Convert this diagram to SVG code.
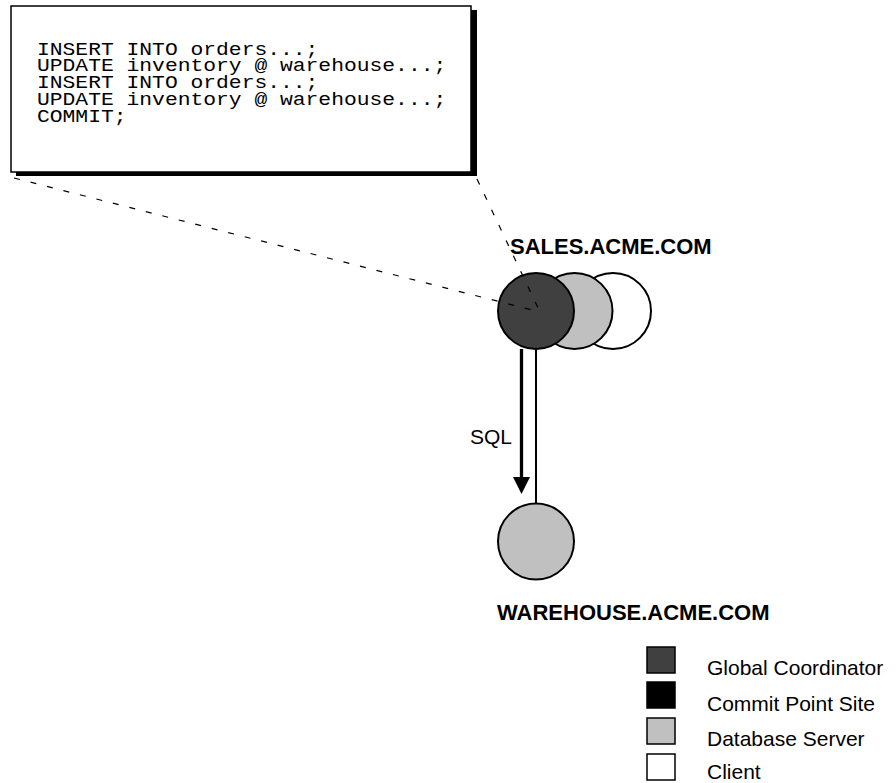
<svg xmlns="http://www.w3.org/2000/svg" width="896" height="783" viewBox="0 0 896 783">
<style>
.code{font-family:"Liberation Mono","Courier New",monospace;font-size:18px;fill:#000}
.lbl{font-family:"Liberation Sans",Arial,sans-serif;font-size:21px;fill:#000}
.bold{font-weight:bold;font-size:22px}
.node{stroke:#000;stroke-width:2}
.dash{stroke:#000;stroke-width:1.2;stroke-dasharray:6,11;fill:none}
.leg{stroke:#000;stroke-width:1.5}
</style>
<rect width="896" height="783" fill="#fff"/>
<g id="code-box">
<rect x="16" y="10" width="461" height="166" fill="#000"/>
<rect x="11" y="6" width="460" height="166" fill="#fff" stroke="#000" stroke-width="1.5"/>
<g transform="translate(37,0) scale(1.185,1)">
<text class="code" x="0" y="54.8"><tspan x="0" y="54.8">INSERT INTO orders...;</tspan><tspan x="0" y="71.5">UPDATE inventory @ warehouse...;</tspan><tspan x="0" y="88.2">INSERT INTO orders...;</tspan><tspan x="0" y="104.9">UPDATE inventory @ warehouse...;</tspan><tspan x="0" y="121.6">COMMIT;</tspan></text>
</g>
</g>
<g id="sales">
<circle class="node" cx="613" cy="311" r="38" fill="#fff"/>
<circle class="node" cx="574.5" cy="311" r="38" fill="#c0c0c0"/>
<circle class="node" cx="536" cy="311" r="38" fill="#404040"/>
<text class="lbl bold" x="510" y="254">SALES.ACME.COM</text>
</g>
<g id="warehouse">
<circle class="node" cx="536" cy="541.5" r="38" fill="#c0c0c0"/>
<text class="lbl bold" x="497" y="620">WAREHOUSE.ACME.COM</text>
</g>
<g id="connectors">
<line class="dash" x1="14" y1="178" x2="540" y2="312"/>
<line class="dash" x1="477" y1="179" x2="540" y2="312"/>
<line x1="536" y1="349" x2="536" y2="503" stroke="#000" stroke-width="2"/>
<line x1="521.5" y1="349" x2="521.5" y2="478" stroke="#000" stroke-width="3.3"/>
<path d="M513,477 L530,477 L521.5,494 Z" fill="#000"/>
<text class="lbl" x="470" y="444">SQL</text>
</g>
<g id="legend">
<rect class="leg" x="647" y="647" width="28" height="26" fill="#404040"/>
<text class="lbl" x="707" y="675">Global Coordinator</text>
<rect class="leg" x="647" y="682" width="28" height="26" fill="#000"/>
<text class="lbl" x="707" y="711">Commit Point Site</text>
<rect class="leg" x="647" y="718" width="28" height="26" fill="#c0c0c0"/>
<text class="lbl" x="707" y="746">Database Server</text>
<rect class="leg" x="647" y="754" width="28" height="26" fill="#fff"/>
<text class="lbl" x="707" y="779">Client</text>
</g>
</svg>
